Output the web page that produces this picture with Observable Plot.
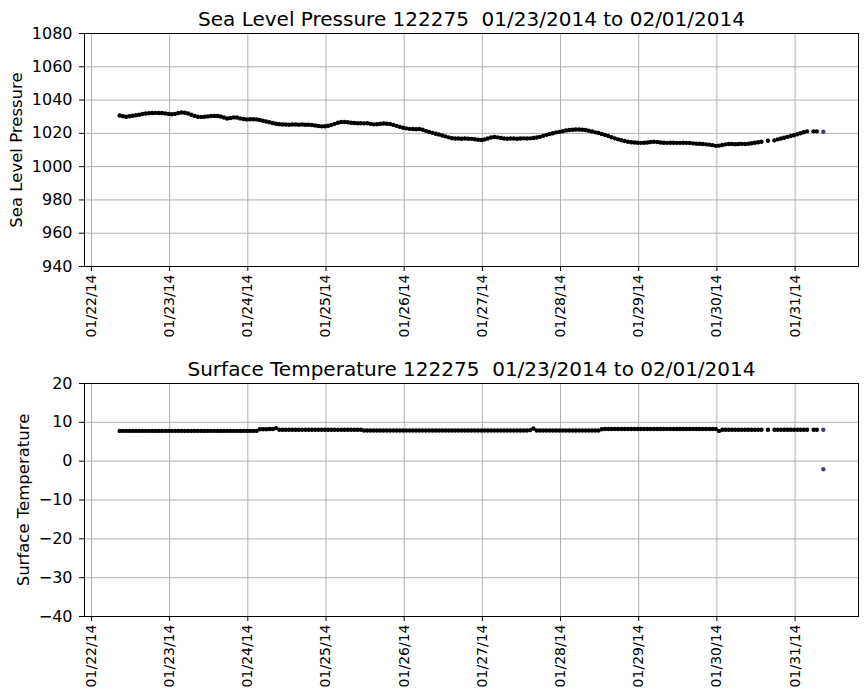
<!DOCTYPE html>
<html><head><meta charset="utf-8">
<script src="https://cdn.jsdelivr.net/npm/d3@7"></script>
<script src="https://cdn.jsdelivr.net/npm/@observablehq/plot@0.6"></script>
<style>
body{margin:0;background:#fff;}
#wrap{position:relative;width:867px;height:700px;font-family:"DejaVu Sans",sans-serif;}
#wrap svg{position:absolute;left:0;}
</style></head><body><div id="wrap"></div>
<script>
const stationId = "122275";
const periodLabel = "01/23/2014 to 02/01/2014";
const startTime = "2014-01-22T08:40:00Z";

const pressure = [
1030.7,1030.3,1030.0,1030.3,1030.6,1030.9,1031.2,1031.6,1031.9,1032.1,
1032.2,1032.3,1032.2,1032.2,1032.0,1031.7,1031.5,1031.7,1032.2,1032.5,
1032.4,1031.9,1031.2,1030.5,1030.0,1029.9,1030.0,1030.2,1030.4,1030.5,
1030.4,1030.1,1029.5,1028.9,1029.2,1029.6,1029.5,1029.0,1028.6,1028.4,
1028.5,1028.5,1028.4,1028.1,1027.6,1027.1,1026.7,1026.2,1025.8,1025.5,
1025.3,1025.3,1025.2,1025.3,1025.3,1025.2,1025.3,1025.2,1025.2,1025.0,
1024.7,1024.4,1024.2,1024.3,1024.6,1025.1,1025.7,1026.4,1026.8,1026.8,
1026.7,1026.4,1026.2,1026.1,1026.1,1026.0,1026.1,1025.7,1025.4,1025.5,
1025.8,1025.9,1025.8,1025.6,1025.1,1024.5,1023.9,1023.4,1023.0,1022.7,
1022.6,1022.5,1022.6,1022.2,1021.5,1020.8,1020.3,1019.8,1019.3,1018.7,
1018.2,1017.6,1017.1,1016.9,1016.9,1016.8,1016.9,1016.8,1016.7,1016.5,
1016.2,1016.0,1016.3,1016.9,1017.5,1017.8,1017.6,1017.2,1016.9,1016.8,
1016.9,1016.9,1016.8,1016.9,1017.0,1016.9,1017.0,1017.2,1017.5,1017.9,
1018.5,1019.1,1019.6,1020.1,1020.6,1020.9,1021.3,1021.7,1022.0,1022.2,
1022.3,1022.3,1022.2,1022.0,1021.6,1021.1,1020.6,1020.2,1019.6,1019.0,
1018.4,1017.7,1017.0,1016.4,1015.9,1015.4,1015.0,1014.7,1014.5,1014.4,
1014.3,1014.4,1014.5,1014.8,1015.0,1014.8,1014.5,1014.4,1014.3,1014.4,
1014.4,1014.3,1014.3,1014.4,1014.3,1014.2,1014.0,1013.8,1013.8,1013.6,
1013.4,1013.2,1012.9,1012.5,1012.6,1013.0,1013.4,1013.6,1013.6,1013.5,
1013.6,1013.7,1013.6,1013.8,1014.1,1014.4,1014.7,1015.0,null,1015.6,
null,1015.8,1016.4,1016.9,1017.4,1017.9,1018.4,1018.9,1019.5,1020.1,
1020.7,1021.2,null,1021.2,1021.2,null
];

const temperature = [
7.8,7.8,7.8,7.8,7.8,7.8,7.8,7.8,7.8,7.8,
7.8,7.8,7.8,7.8,7.8,7.8,7.8,7.8,7.8,7.8,
7.8,7.8,7.8,7.8,7.8,7.8,7.8,7.8,7.8,7.8,
7.8,7.8,7.8,7.8,7.8,7.8,7.8,7.8,7.8,7.8,
7.8,7.8,7.8,8.2,8.2,8.2,8.3,8.3,8.5,8.1,
8.1,8.1,8.1,8.1,8.1,8.1,8.1,8.1,8.1,8.1,
8.1,8.1,8.1,8.1,8.1,8.1,8.1,8.1,8.1,8.1,
8.1,8.1,8.1,8.1,8.1,7.9,7.9,7.9,7.9,7.9,
7.9,7.9,7.9,7.9,7.9,7.9,7.9,7.9,7.9,7.9,
7.9,7.9,7.9,7.9,7.9,7.9,7.9,7.9,7.9,7.9,
7.9,7.9,7.9,7.9,7.9,7.9,7.9,7.9,7.9,7.9,
7.9,7.9,7.9,7.9,7.9,7.9,7.9,7.9,7.9,7.9,
7.9,7.9,7.9,7.9,7.9,7.9,8.0,8.4,7.9,7.9,
7.9,7.9,7.9,7.9,7.9,7.9,7.9,7.9,7.9,7.9,
7.9,7.9,7.9,7.9,7.9,7.9,7.9,7.9,8.2,8.3,
8.3,8.3,8.3,8.3,8.3,8.3,8.3,8.3,8.3,8.3,
8.3,8.3,8.3,8.3,8.3,8.3,8.3,8.3,8.3,8.3,
8.3,8.3,8.3,8.3,8.3,8.3,8.3,8.3,8.3,8.3,
8.3,8.3,8.3,8.3,7.8,8.1,8.1,8.1,8.1,8.1,
8.1,8.1,8.1,8.1,8.1,8.1,8.1,8.1,null,8.1,
null,8.1,8.1,8.1,8.1,8.1,8.1,8.1,8.1,8.1,
8.1,8.1,null,8.1,8.1,null
];

// final report (drawn in a different colour)
const lastPressure = [1021.0];
const lastTemperature = [8.1, -2.1];

const dayTicks = ["2014-01-22","2014-01-23","2014-01-24","2014-01-25","2014-01-26",
  "2014-01-27","2014-01-28","2014-01-29","2014-01-30","2014-01-31"];
const pressureTicks = [940,960,980,1000,1020,1040,1060,1080];
const temperatureTicks = [-40,-30,-20,-10,0,10,20];

const t0 = new Date(startTime);
const times = pressure.map((_, i) => d3.utcHour.offset(t0, i));
const tLast = d3.utcHour.offset(t0, pressure.length);
const span = tLast - t0;
const xDomain = [new Date(+t0 - 0.05 * span), new Date(+tLast + 0.05 * span)];
const dayDates = dayTicks.map(s => new Date(s + "T00:00:00Z"));

function panel({values, lastValues, ticks, label, title, top, labelOffset}) {
  const data = values.map((v, i) => ({t: times[i], v}));
  const last = lastValues.map(v => ({t: tLast, v}));
  const svg = Plot.plot({
    width: 867, height: 350,
    marginLeft: 84, marginRight: 9, marginTop: 33, marginBottom: 84,
    style: {fontFamily: "DejaVu Sans", fontSize: "15px", color: "black", background: "white", overflow: "visible"},
    x: {type: "utc", domain: xDomain},
    y: {domain: [ticks[0], ticks[ticks.length - 1]]},
    marks: [
      Plot.gridX(dayDates, {stroke: "#b0b0b0", strokeOpacity: 1, strokeWidth: 1}),
      Plot.gridY(ticks, {stroke: "#b0b0b0", strokeOpacity: 1, strokeWidth: 1}),
      Plot.axisX(dayDates, {tickRotate: -90, tickFormat: d3.utcFormat("%m/%d/%y"), tickSize: 5, tickPadding: 3, fontSize: 14, label: null, stroke: "black"}),
      Plot.axisY(ticks, {tickSize: 5, tickPadding: 7, tickFormat: d3.format("d"), label, labelAnchor: "center", labelArrow: "none", labelOffset, fontSize: 16, stroke: "black"}),
      Plot.dot(data, {x: "t", y: "v", r: 2.2, fill: "black"}),
      Plot.dot(last, {x: "t", y: "v", r: 2.2, fill: "#3f3f80"}),
      Plot.frame({stroke: "black", strokeWidth: 1}),
      Plot.text([title], {frameAnchor: "top", dy: -14, lineAnchor: "middle", fontSize: 20, fill: "black"})
    ]
  });
  svg.style.top = top + "px";
  svg.querySelectorAll("g[aria-label='y-axis label'] text").forEach(t => t.style.fontSize = "16.5px");
  document.getElementById("wrap").appendChild(svg);
}

panel({values: pressure, lastValues: lastPressure, ticks: pressureTicks,
  label: "Sea Level Pressure", title: `Sea Level Pressure ${stationId} \u00a0${periodLabel}`, top: 0, labelOffset: 74});
panel({values: temperature, lastValues: lastTemperature, ticks: temperatureTicks,
  label: "Surface Temperature", title: `Surface Temperature ${stationId} \u00a0${periodLabel}`, top: 350, labelOffset: 67});
</script></body></html>
